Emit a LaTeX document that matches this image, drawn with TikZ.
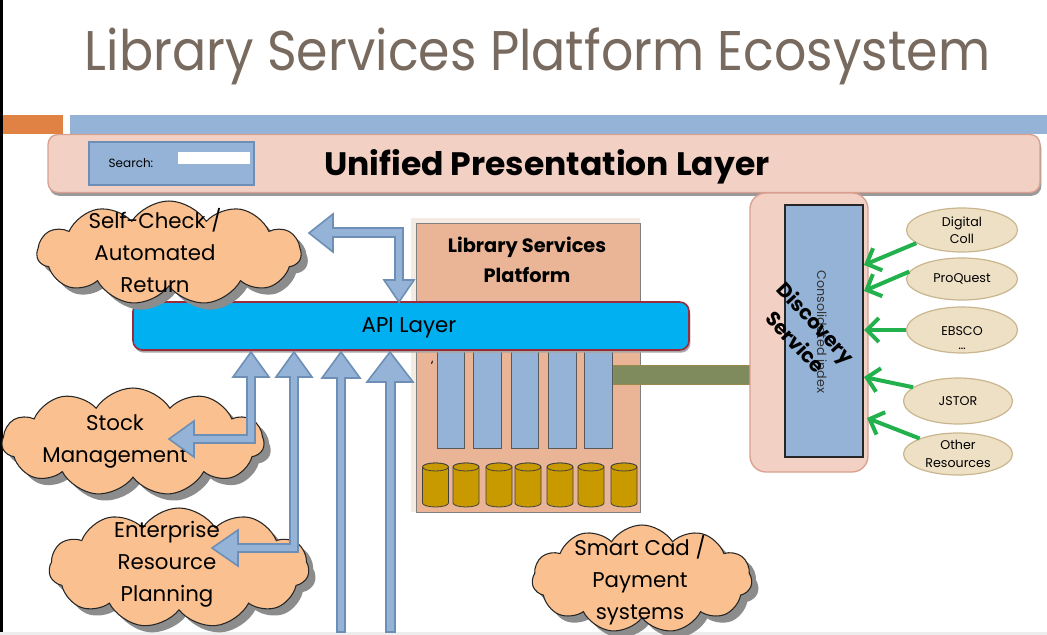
\documentclass[tikz,border=0pt]{standalone}
\usepackage{fontspec}
\setmainfont{Poppins}
\usetikzlibrary{shapes.symbols,shapes.geometric,shadows,arrows.meta,calc}
\definecolor{ttl}{HTML}{786A5E}
\definecolor{orb}{HTML}{DF8244}
\definecolor{lb}{HTML}{95B3D7}
\definecolor{lbd}{HTML}{6E8FB5}
\definecolor{pinkf}{HTML}{F2D0C4}
\definecolor{pinkd}{HTML}{D9A090}
\definecolor{lspf}{HTML}{EAB596}
\definecolor{lspbg}{HTML}{F4ECE2}
\definecolor{apif}{HTML}{00B0F0}
\definecolor{apid}{HTML}{9B2B3A}
\definecolor{cylf}{HTML}{C99A00}
\definecolor{olive}{HTML}{7F8B5C}
\definecolor{tanf}{HTML}{EEE0C4}
\definecolor{tand}{HTML}{C9B68F}
\definecolor{grn}{HTML}{22B14C}
\definecolor{cloudf}{HTML}{FAC08F}
\def\px{0.75pt}
\tikzset{
  cloudbox/.style={cloud, cloud puffs=11, cloud puff arc=115, cloud ignores aspect, draw=black!85, line width=0.8pt, fill=cloudf, inner sep=0pt,
    drop shadow={shadow xshift=5pt, shadow yshift=-5pt, fill=black!45, opacity=1}},
  cloudtxt/.style={align=center, font=\fontsize{16}{24}\selectfont, inner sep=0pt},
  barrow/.style={fill=lb, draw=lbd, line width=1.2pt, line join=miter},
  srcell/.style={ellipse, draw=tand, line width=0.9pt, fill=tanf, inner sep=0pt, align=center, font=\fontsize{9.5}{13}\selectfont},
  garrow/.style={draw=grn, line width=3pt, -{Straight Barb[length=9pt,width=18pt]}},
  colbox/.style={draw=black!65, line width=0.5pt, fill=lb, inner sep=0pt},
  cylbox/.style={draw=black!75, line width=0.6pt, fill=cylf},
}
\begin{document}
\begin{tikzpicture}[x=0.75pt,y=-0.75pt]
\useasboundingbox (0,0) rectangle (1047,635);
\fill[white] (0,0) rectangle (1047,635);
\fill[black] (0,0) rectangle (3,632);
\fill[black!7] (0,632) rectangle (1047,635);

% title
\node[inner sep=0pt] (title) at (537.5,56) {\resizebox{679pt}{32pt}{\color{ttl}Library Services Platform Ecosystem}};

% top bars
\fill[orb] (3,115) rectangle (63,134);
\fill[lb] (70,115) rectangle (1047,134);

% unified presentation layer
\node[draw=pinkd, line width=1pt, fill=pinkf, rounded corners=7.5pt, minimum width=992*\px, minimum height=58*\px, inner sep=0pt,
  drop shadow={shadow xshift=1pt, shadow yshift=-2.5pt, fill=black!40, opacity=1}] (upl) at (544,163.5) {};
\node[inner sep=0pt] (upltxt) at (547,167) {\resizebox{334pt}{19.5pt}{\bfseries Unified Presentation Layer}};
\node[draw=lbd, line width=1pt, fill=lb, minimum width=165*\px, minimum height=43*\px, inner sep=0pt] (search) at (171.5,163.5) {};
\node[font=\fontsize{9}{10}\selectfont, inner sep=0pt] (searchlbl) at (131,163) {Search:};
\node[fill=white, minimum width=72*\px, minimum height=12*\px, inner sep=0pt] (searchfld) at (214,158.5) {};

% library services platform
\fill[lspbg] (411,218) rectangle (640,512);
\node[draw=black!50, line width=0.6pt, fill=lspf, minimum width=224*\px, minimum height=289*\px, inner sep=0pt] (lsp) at (528,367.5) {};
\node[align=center, font=\bfseries\fontsize{14.5}{23}\selectfont, inner sep=0pt] (lsptxt) at (527,260) {Library Services\\Platform};
\node[font=\fontsize{10}{10}\selectfont, inner sep=0pt] (tick) at (432,366) {`};
\foreach \a/\b [count=\i] in {437/464, 473/501, 511/538, 548/576, 584/612}{
  \node[colbox, minimum width={(\b-\a)*0.75pt}, minimum height=100*\px] (col\i) at ({(\a+\b)/2},398) {};
}
\foreach \cx in {435.5, 466, 499, 528, 560, 591, 624}{
  \path[cylbox] ({\cx-13},467) -- ({\cx-13},503) arc[start angle=180, end angle=0, x radius=13, y radius=4] -- ({\cx+13},467) arc[start angle=0, end angle=-180, x radius=13, y radius=4] -- cycle;
  \draw[cylbox] (\cx,467) ellipse [x radius=13, y radius=4];
}
\node[fill=olive, draw=olive!80!orange, line width=0.4pt, minimum width=137*\px, minimum height=19*\px, inner sep=0pt] (ob) at (681.5,374.5) {};

% API layer
\node[draw=apid, line width=1.2pt, fill=apif, rounded corners=7pt, minimum width=556*\px, minimum height=48*\px, inner sep=0pt,
  drop shadow={shadow xshift=1pt, shadow yshift=-2pt, fill=black!35, opacity=1}] (api) at (411,326) {};
\node[font=\fontsize{16}{18}\selectfont, inner sep=0pt] (apitxt) at (409,328) {API Layer};

% discovery service
\node[draw=pinkd, line width=1pt, fill=pinkf, rounded corners=12pt, minimum width=118*\px, minimum height=279*\px, inner sep=0pt] (disc) at (809,332.5) {};
\node[draw=black!85, line width=0.8pt, fill=lb, minimum width=78*\px, minimum height=252*\px, inner sep=0pt] (ci) at (824,331) {};
\node[rotate=-90, font=\fontsize{9.5}{11}\selectfont, text=black!80, inner sep=0pt] (citxt) at (822,332) {Consolidated index};
\node[rotate=-47, align=center, font=\bfseries\fontsize{15}{21}\selectfont, inner sep=0pt] (disctxt) at (806,332) {Discovery\\Service};

% sources
\node[srcell, minimum width=111*\px, minimum height=44*\px] (dc) at (962,230) {Digital\\Coll};
\node[srcell, minimum width=111*\px, minimum height=42*\px] (pq) at (962,279) {ProQuest};
\node[srcell, minimum width=111*\px, minimum height=46*\px] (eb) at (962,330) {};
\node[font=\fontsize{9.5}{13}\selectfont, inner sep=0pt] (ebtxt) at (962,331) {EBSCO};
\node[font=\fontsize{9.5}{13}\selectfont, inner sep=0pt] (ebdots) at (962,349) {\dots};
\node[srcell, minimum width=109*\px, minimum height=46*\px] (js) at (958,401) {JSTOR};
\node[srcell, minimum width=109*\px, minimum height=42*\px] (ot) at (958,454) {Other\\Resources};
\coordinate (t1) at (864,265);
\coordinate (t2) at (864,291);
\coordinate (t3) at (864,330);
\coordinate (t4) at (864,377);
\coordinate (t5) at (867,418);
\draw[garrow] (dc.196) -- (t1);
\draw[garrow] (pq.172) -- (t2);
\draw[garrow] (eb.west) -- (t3);
\draw[garrow] (js.163) -- (t4);
\draw[garrow] (ot.158) -- (t5);

% clouds
\node[cloudbox, minimum width=264*\px, minimum height=104*\px] (selfc) at (169,253) {};
\node[cloudtxt] (selfctxt) at (155,251) {Self-Check /\\Automated\\Return};
\node[cloudbox, minimum width=262*\px, minimum height=108*\px] (stock) at (133,442) {};
\node[cloudtxt] (stocktxt) at (115,441) {Stock\\Management};
\node[cloudbox, minimum width=260*\px, minimum height=120*\px] (erp) at (179,568) {};
\node[cloudtxt] (erptxt) at (167,564) {Enterprise\\Resource\\Planning};
\node[cloudbox, minimum width=220*\px, minimum height=108*\px] (smart) at (642,579) {};
\node[cloudtxt] (smarttxt) at (640,580) {Smart Cad /\\Payment\\systems};

% block arrows
\path[barrow] (309,233) -- (333,214) -- (333,228) -- (403,228) -- (403,280) -- (414,280) -- (399,302) -- (384,280) -- (395,280) -- (395,237) -- (333,237) -- (333,252) -- cycle;
\path[barrow] (251,352) -- (269,377) -- (255,377) -- (255,443) -- (194,443) -- (194,457) -- (169,439) -- (194,421) -- (194,435) -- (247,435) -- (247,377) -- (233,377) -- cycle;
\path[barrow] (294,352) -- (312,377) -- (298,377) -- (298,552) -- (238,552) -- (238,566) -- (212,548) -- (238,530) -- (238,544) -- (290,544) -- (290,377) -- (276,377) -- cycle;
\path[barrow] (341,352) -- (360,378) -- (345,378) -- (345,632) -- (337,632) -- (337,378) -- (322,378) -- cycle;
\path[barrow] (390,352) -- (413,382) -- (395,382) -- (395,632) -- (386,632) -- (386,382) -- (367,382) -- cycle;
\end{tikzpicture}
\end{document}
